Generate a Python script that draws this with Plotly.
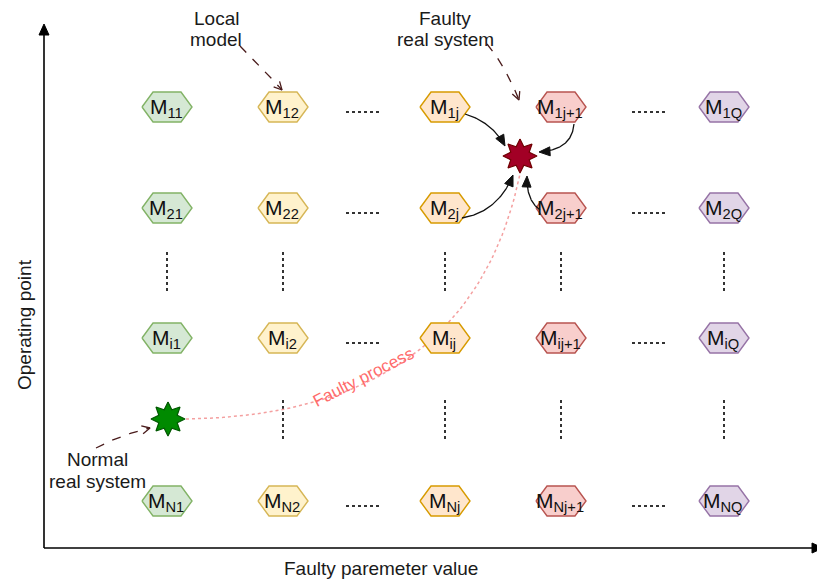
import numpy as np
import plotly.graph_objects as go

# ---------------- data ----------------
row_keys = ["1", "2", "i", "N"]
col_keys = ["1", "2", "j", "j+1", "Q"]
col_x = [167, 283, 445, 561, 724]          # faulty parameter value slots
row_y = [107, 208, 338, 501]               # operating point slots
col_fill = ["#d5e8d4", "#fff2cc", "#ffe6cc", "#f8cecc", "#e1d5e7"]
col_line = ["#82b366", "#d6b656", "#d79b00", "#b85450", "#9673a6"]
hdots_x = [(346, 380), (632, 668)]          # "......" between columns
vdots_upper = [0, 1, 2, 3, 4]               # columns with vertical dots (upper gap)
vdots_lower = [1, 2, 3, 4]                  # columns with vertical dots (lower gap)
vgap_upper = (252, 292)
vgap_lower = (400, 440)
normal_pt = (168, 419)
faulty_pt = (520, 156)

FONT = "Liberation Sans, Arial, sans-serif"
W, H = 825, 585
OFF = 8  # page body margin of the html output

fig = go.Figure()


def poly(xs, ys, fill, line, lw=1.3):
    fig.add_trace(go.Scatter(x=xs, y=ys, mode="lines", fill="toself",
                             fillcolor=fill, line=dict(color=line, width=lw),
                             hoverinfo="skip", showlegend=False))


def line(xs, ys, color, lw=1.3, dash="solid"):
    fig.add_trace(go.Scatter(x=xs, y=ys, mode="lines",
                             line=dict(color=color, width=lw, dash=dash),
                             hoverinfo="skip", showlegend=False))


def quad(p0, c, p2, n=60):
    t = np.linspace(0, 1, n)
    x = (1 - t) ** 2 * p0[0] + 2 * t * (1 - t) * c[0] + t ** 2 * p2[0]
    y = (1 - t) ** 2 * p0[1] + 2 * t * (1 - t) * c[1] + t ** 2 * p2[1]
    return x, y


def head(tip, frm, color, L=10, Wd=4.5, filled=True, lw=1.3):
    d = np.array(tip, float) - np.array(frm, float)
    d /= np.linalg.norm(d)
    nrm = np.array([-d[1], d[0]])
    base = np.array(tip) - L * d
    a = base + Wd * nrm
    b = base - Wd * nrm
    if filled:
        poly([tip[0], a[0], b[0], tip[0]], [tip[1], a[1], b[1], tip[1]], color, color, 1)
    else:
        line([a[0], tip[0], b[0]], [a[1], tip[1], b[1]], color, lw)


def star(cx, cy, R, r, fill, stroke):
    ang = np.deg2rad(np.arange(0, 361, 22.5) - 90)
    rad = np.where(np.arange(len(ang)) % 2 == 0, R, r)
    poly(cx + rad * np.cos(ang), cy + rad * np.sin(ang), fill, stroke, 1.2)


# ---------------- axes arrows ----------------
line([44, 44], [548, 34], "#000000", 1.6)
head((44, 24), (44, 60), "#000000", L=11, Wd=5)
line([44, 812], [548, 548], "#000000", 1.6)
head((823, 548), (790, 548), "#000000", L=11, Wd=5)

# ---------------- dots ----------------
for ry in row_y:
    for (x0, x1) in hdots_x:
        line([x0, x1], [ry + 5, ry + 5], "#333333", 2, "dot")
for ci in vdots_upper:
    line([col_x[ci], col_x[ci]], list(vgap_upper), "#333333", 2, "dot")
for ci in vdots_lower:
    line([col_x[ci], col_x[ci]], list(vgap_lower), "#333333", 2, "dot")

# ---------------- faulty process curve ----------------
fx, fy = quad((normal_pt[0] + 18, normal_pt[1]), (470, 415), (faulty_pt[0], faulty_pt[1] + 18))
line(fx, fy, "#f4a0a0", 1.5, "dot")

# ---------------- hexagons ----------------
hw, hh, hs = 25, 15, 11
annots = []
for ri, rk in enumerate(row_keys):
    for ci, ck in enumerate(col_keys):
        cx, cy = col_x[ci], row_y[ri]
        xs = [cx - hw, cx - hw + hs, cx + hw - hs, cx + hw, cx + hw - hs, cx - hw + hs, cx - hw]
        ys = [cy, cy - hh, cy - hh, cy, cy + hh, cy + hh, cy]
        poly(xs, ys, col_fill[ci], col_line[ci], 1.4)
        annots.append(dict(x=cx - 1, y=cy + 1, text="M<sub>%s%s</sub>" % (rk, ck),
                           showarrow=False, font=dict(family=FONT, size=21, color="#111111"),
                           xanchor="center", yanchor="middle"))

# ---------------- stars ----------------
star(normal_pt[0], normal_pt[1], 17, 10, "#008a00", "#005700")
star(faulty_pt[0], faulty_pt[1], 17, 10, "#a20025", "#6f0000")

# ---------------- black arrows to faulty system ----------------
arrows = [((465, 114), (492, 122), (505, 146)),
          ((574, 124), (572, 150), (539, 152)),
          ((462, 218), (498, 212), (513, 175)),
          ((540, 210), (526, 200), (527, 176))]
for p0, c, p2 in arrows:
    x, y = quad(p0, c, p2)
    line(x[:-4], y[:-4], "#111111", 1.3)
    head(p2, c, "#111111", L=11, Wd=4.5)

# ---------------- dashed callouts ----------------
dcol = "#4a1c1c"
callouts = [((240, 46), (262, 68), (282, 90)),
            ((487, 44), (505, 65), (519, 100)),
            ((96, 448), (120, 435), (150, 428))]
for p0, c, p2 in callouts:
    x, y = quad(p0, c, p2)
    line(x, y, dcol, 1.3, "dash")
    head(p2, c, dcol, L=8, Wd=4, filled=False, lw=1.3)

# ---------------- texts ----------------
tf = dict(family=FONT, size=19, color="#1a1a1a")
text_items = [
    ("Local", 216, 18), ("model", 216, 39),
    ("Faulty", 445, 18), ("real system", 445, 39),
    ("Normal", 97, 459), ("real system", 97, 481),
    ("Faulty paremeter value", 381, 568),
]
for t, x, y in text_items:
    annots.append(dict(x=x, y=y, text=t, showarrow=False, font=tf))
annots += [
    dict(x=24, y=325, text="Operating point", showarrow=False, font=tf, textangle=-90),
    dict(x=363, y=377, text="Faulty process", showarrow=False, textangle=-27,
         font=dict(family=FONT, size=17, color="#ff6b6b")),
]
for a in annots:
    a.setdefault("xref", "x")
    a.setdefault("yref", "y")

fig.update_layout(
    width=W, height=H, margin=dict(l=0, r=0, t=0, b=0),
    paper_bgcolor="white", plot_bgcolor="white",
    xaxis=dict(range=[OFF, W + OFF], visible=False, fixedrange=True),
    yaxis=dict(range=[H + OFF, OFF], visible=False, fixedrange=True),
    annotations=annots, showlegend=False,
)
fig.write_html("out.html")
